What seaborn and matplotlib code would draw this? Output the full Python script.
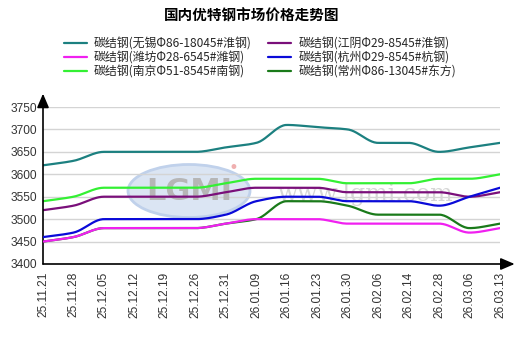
import numpy as np
import pandas as pd
import matplotlib
matplotlib.use("Agg")
import matplotlib.pyplot as plt
from matplotlib.patches import Ellipse
import seaborn as sns

# Weekly dates
dates = ["25.11.21", "25.11.28", "25.12.05", "25.12.12", "25.12.19", "25.12.26",
         "25.12.31", "26.01.09", "26.01.16", "26.01.23", "26.01.30", "26.02.06",
         "26.02.14", "26.02.28", "26.03.06", "26.03.13"]

# Prices (yuan/ton) per product / market
wuxi_huai = [3620, 3630, 3650, 3650, 3650, 3650, 3660, 3670, 3710, 3705, 3700, 3670, 3670, 3650, 3660, 3670]
weifang = [3450, 3460, 3480, 3480, 3480, 3480, 3490, 3500, 3500, 3500, 3490, 3490, 3490, 3490, 3470, 3480]
nanjing = [3540, 3550, 3570, 3570, 3570, 3570, 3580, 3590, 3590, 3590, 3580, 3580, 3580, 3590, 3590, 3600]
jiangyin = [3520, 3530, 3550, 3550, 3550, 3550, 3560, 3570, 3570, 3570, 3560, 3560, 3560, 3560, 3550, 3560]
hangzhou = [3460, 3470, 3500, 3500, 3500, 3500, 3510, 3540, 3550, 3550, 3540, 3540, 3540, 3530, 3550, 3570]
changzhou = [3450, 3460, 3480, 3480, 3480, 3480, 3490, 3500, 3540, 3540, 3530, 3510, 3510, 3510, 3480, 3490]

series_names = ["碳结钢(无锡Φ86-18045#淮钢)", "碳结钢(潍坊Φ28-6545#潍钢)", "碳结钢(南京Φ51-8545#南钢)",
                "碳结钢(江阴Φ29-8545#淮钢)", "碳结钢(杭州Φ29-8545#杭钢)", "碳结钢(常州Φ86-13045#东方)"]
series_values = [wuxi_huai, weifang, nanjing, jiangyin, hangzhou, changzhou]
series_colors = ["#1c8080", "#f020f0", "#33f033", "#7a0f7a", "#0a0ad8", "#1a7a1a"]
series_z = [3, 5, 3, 3, 4, 2]

y_ticks = [3400, 3450, 3500, 3550, 3600, 3650, 3700, 3750]


def smooth(xs, ys, n=24):
    """Monotone cubic (Fritsch-Carlson) curve through the points."""
    xs = np.asarray(xs, float)
    ys = np.asarray(ys, float)
    h = np.diff(xs)
    d = np.diff(ys) / h
    m = np.zeros_like(ys)
    m[0], m[-1] = d[0], d[-1]
    for i in range(1, len(ys) - 1):
        if d[i - 1] * d[i] <= 0:
            m[i] = 0.0
        else:
            w1 = 2 * h[i] + h[i - 1]
            w2 = h[i] + 2 * h[i - 1]
            m[i] = (w1 + w2) / (w1 / d[i - 1] + w2 / d[i])
    out_x, out_y = [], []
    for i in range(len(xs) - 1):
        t = np.linspace(0, 1, n, endpoint=(i == len(xs) - 2))
        h00 = 2 * t**3 - 3 * t**2 + 1
        h10 = t**3 - 2 * t**2 + t
        h01 = -2 * t**3 + 3 * t**2
        h11 = t**3 - t**2
        out_x.append(xs[i] + t * h[i])
        out_y.append(h00 * ys[i] + h10 * h[i] * m[i] + h01 * ys[i + 1] + h11 * h[i] * m[i + 1])
    return np.concatenate(out_x), np.concatenate(out_y)


sns.set_theme(style="white")
plt.rcParams["font.family"] = ["Noto Sans CJK SC", "DejaVu Sans"]

fig = plt.figure(figsize=(5.21, 3.37), dpi=100)
ax = fig.add_axes([43 / 521, 73 / 337, 457 / 521, 157 / 337])

x_idx = np.arange(len(dates))

# faint watermark behind the lines
ax.add_patch(Ellipse((189 / 521, 1 - 191 / 337), 122 / 521, 53 / 337, transform=fig.transFigure,
                     facecolor="#dbe5f3", edgecolor="#c0d1eb", lw=2, zorder=0.5))
ax.text(189 / 521, 1 - 192 / 337, "LGMI", transform=fig.transFigure, ha="center", va="center",
        fontsize=22, fontweight="bold", color="#b6b6b6", family="DejaVu Sans", zorder=0.6)
ax.text(233 / 521, 1 - 168 / 337, "•", transform=fig.transFigure, ha="center", va="center",
        fontsize=12, color="#f0b0b0", family="DejaVu Sans", zorder=0.6)
ax.text(365 / 521, 1 - 194 / 337, "www.lgmi.com", transform=fig.transFigure, ha="center",
        va="center", fontsize=17, color="#d6d6d6", family="DejaVu Serif", zorder=0.6)

for name, vals, col, z in zip(series_names, series_values, series_colors, series_z):
    sx, sy = smooth(x_idx, vals)
    df = pd.DataFrame({"x": sx, "y": sy})
    sns.lineplot(data=df, x="x", y="y", ax=ax, color=col, lw=1.6, label=name,
                 zorder=z, sort=False, estimator=None)

ax.set_xlim(0, len(dates) - 1)
ax.set_ylim(3400, 3750)
ax.set_yticks(y_ticks)
ax.set_yticklabels([str(v) for v in y_ticks], family="Liberation Sans", fontsize=8.6, color="#333333")
ax.set_xticks(x_idx)
ax.set_xticklabels(dates, rotation=90, family="Liberation Sans", fontsize=8.6, color="#333333")
ax.set_xlabel("")
ax.set_ylabel("")
ax.yaxis.grid(True, color="#d4d4d4", lw=1)
ax.xaxis.grid(False)
ax.set_facecolor("none")
for s in ax.spines.values():
    s.set_visible(False)
ax.tick_params(axis="x", length=3, color="#c8c8c8", direction="inout", pad=4)
ax.tick_params(axis="y", length=3, color="#888888", direction="out", pad=1)

# axis lines with arrow heads
ax.annotate("", xy=(1.032, 0), xytext=(0, 0), xycoords="axes fraction",
            arrowprops=dict(arrowstyle="-|>,head_length=0.7,head_width=0.3", color="black", lw=1.2,
                            shrinkA=0, shrinkB=0), annotation_clip=False)
ax.annotate("", xy=(0, 1.085), xytext=(0, 0), xycoords="axes fraction",
            arrowprops=dict(arrowstyle="-|>,head_length=0.7,head_width=0.3", color="black", lw=1.2,
                            shrinkA=0, shrinkB=0), annotation_clip=False)

handles, labels = ax.get_legend_handles_labels()
ax.get_legend().remove()
fig.legend(handles, labels, ncol=2, loc="center", bbox_to_anchor=(260 / 521, 1 - 58 / 337),
           frameon=False, fontsize=8.6, handlelength=1.9, handletextpad=0.6, columnspacing=1.4,
           labelspacing=0.08, borderaxespad=0)

fig.text(252 / 521, 1 - 16 / 337, "国内优特钢市场价格走势图", ha="center", va="center",
         fontsize=10.5, fontweight="bold", color="black")

fig.savefig("out.png", dpi=100)
